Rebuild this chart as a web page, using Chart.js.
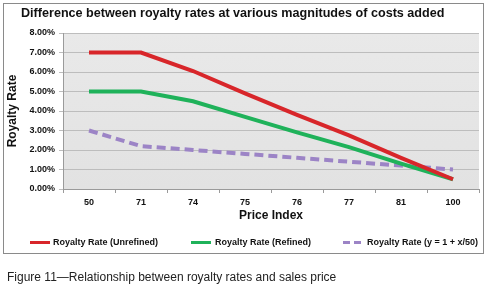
<!DOCTYPE html>
<html>
<head>
<meta charset="utf-8">
<script src="https://cdn.jsdelivr.net/npm/chart.js@4/dist/chart.umd.min.js"></script>
<style>
  html, body { margin: 0; padding: 0; background: #ffffff; }
  #wrap { position: relative; width: 490px; height: 292px; overflow: hidden; }
  #frame { position: absolute; left: 3px; top: 3px; width: 479px; height: 249px; border: 1.5px solid #8a8a8a; background: #fff; }
  #c { position: absolute; left: 0; top: 0; }
  #caption { position: absolute; left: 7px; top: 270px; font-family: "Liberation Sans", Arial, sans-serif; font-size: 12px; color: #222; white-space: nowrap; }
</style>
</head>
<body>
<div id="wrap">
  <div id="frame"></div>
  <canvas id="c" width="490" height="292"></canvas>
  <div id="caption">Figure 11—Relationship between royalty rates and sales price</div>
</div>
<script>
const categories = ["50", "71", "74", "75", "76", "77", "81", "100"];
const unrefined = [7.0, 7.0, 6.05, 4.9, 3.8, 2.75, 1.6, 0.5];
const refined = [5.0, 5.0, 4.5, 3.7, 2.9, 2.15, 1.3, 0.5];
const formula = [3.0, 2.2, 2.0, 1.8, 1.6, 1.4, 1.2, 1.0];
const seriesNames = ["Royalty Rate (Unrefined)", "Royalty Rate (Refined)", "Royalty Rate (y = 1 + x/50)"];
const yTicks = [0, 1, 2, 3, 4, 5, 6, 7, 8];
const chartTitle = 'Difference between royalty rates at various magnitudes of costs added';

const FONT = '"Liberation Sans", Arial, sans-serif';

const plotBg = {
  id: 'plotBg',
  beforeDraw(chart) {
    const a = chart.chartArea, ctx = chart.ctx;
    ctx.save();
    const g = ctx.createLinearGradient(0, a.top, 0, a.bottom);
    g.addColorStop(0, '#e9e9e9');
    g.addColorStop(1, '#e2e2e2');
    ctx.fillStyle = g;
    ctx.fillRect(a.left, a.top, a.right - a.left, a.bottom - a.top);
    ctx.restore();
  }
};

// title and legend drawn at fixed positions in the frame
const titleLegend = {
  id: 'titleLegend',
  afterDraw(chart) {
    const ctx = chart.ctx;
    ctx.save();
    ctx.fillStyle = '#111';
    ctx.textBaseline = 'middle';
    ctx.textAlign = 'left';
    ctx.font = 'bold 12.6px ' + FONT;
    ctx.fillText(chartTitle, 21, 14);

    const items = [
      { x: 30, tx: 53 },
      { x: 191, tx: 215 },
      { x: 343, tx: 367 }
    ];
    const y = 242.5;
    ctx.font = 'bold 9px ' + FONT;
    chart.data.datasets.forEach((ds, i) => {
      const it = items[i];
      ctx.strokeStyle = ds.borderColor;
      ctx.lineWidth = 3;
      ctx.setLineDash(ds.borderDash ? [7, 4] : []);
      ctx.beginPath();
      ctx.moveTo(it.x, y);
      ctx.lineTo(it.x + 20, y);
      ctx.stroke();
      ctx.setLineDash([]);
      ctx.fillText(ds.label, it.tx, y);
    });
    ctx.restore();
  }
};

new Chart(document.getElementById('c'), {
  type: 'line',
  data: {
    labels: categories,
    datasets: [
      { label: seriesNames[0], data: unrefined, borderColor: '#d8262a', backgroundColor: '#d8262a', borderWidth: 4, pointRadius: 0, tension: 0 },
      { label: seriesNames[1], data: refined, borderColor: '#1fb25a', backgroundColor: '#1fb25a', borderWidth: 4, pointRadius: 0, tension: 0 },
      { label: seriesNames[2], data: formula, borderColor: '#9c84c6', backgroundColor: '#9c84c6', borderWidth: 4, borderDash: [9, 5], pointRadius: 0, tension: 0 }
    ]
  },
  options: {
    responsive: false,
    animation: false,
    layout: { padding: { left: 5, right: 11, top: 33, bottom: 69 } },
    plugins: {
      title: { display: false },
      legend: { display: false },
      tooltip: { enabled: false }
    },
    scales: {
      x: {
        offset: true,
        afterFit(scale) { scale.height = 34; },
        grid: { display: true, drawOnChartArea: false, offset: true, tickLength: 4, color: '#9a9a9a' },
        border: { display: true, color: '#9a9a9a', width: 1 },
        ticks: { color: '#111', font: { family: FONT, size: 9, weight: 'bold' }, padding: 4, maxRotation: 0 },
        title: { display: true, text: 'Price Index', color: '#111', font: { family: FONT, size: 12, weight: 'bold' }, padding: { top: 0, bottom: 0 } }
      },
      y: {
        min: 0, max: 8,
        afterBuildTicks(scale) { scale.ticks = yTicks.map(v => ({ value: v })); },
        afterFit(scale) { scale.width = 58; },
        grid: { color: '#bdbdbd', tickLength: 4, drawTicks: true },
        border: { display: true, color: '#9a9a9a', width: 1 },
        ticks: { color: '#111', font: { family: FONT, size: 9, weight: 'bold' }, padding: 4, callback: v => Number(v).toFixed(2) + '%' },
        title: { display: true, text: 'Royalty Rate', color: '#111', font: { family: FONT, size: 12, weight: 'bold' }, padding: { top: 0, bottom: 4 } }
      }
    }
  },
  plugins: [plotBg, titleLegend]
});
</script>
</body>
</html>
